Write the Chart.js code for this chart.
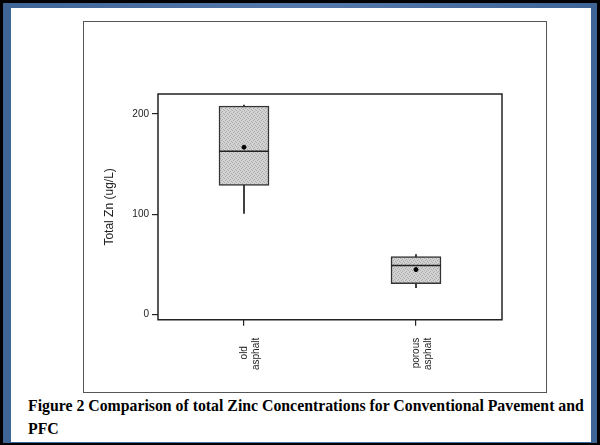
<!DOCTYPE html>
<html>
<head>
<meta charset="utf-8">
<script src="https://cdn.jsdelivr.net/npm/chart.js@4"></script>
<style>
    body { margin: 0; width: 600px; height: 445px; background: #000; position: relative; overflow: hidden; }
    #blue { position: absolute; left: 3px; top: 3px; width: 594px; height: 440px; background: linear-gradient(90deg, #3f6596, #5479aa 50%, #3f6596); }
    #page { position: absolute; left: 11px; top: 8px; width: 580px; height: 434px; background: #fff; }
    #figbox { position: absolute; left: 83px; top: 21px; width: 462px; height: 370px; border: 1.5px solid #555; background: #fff; }
    #figbox canvas { position: absolute; left: 0; top: 0; }
    #caption { position: absolute; left: 28px; top: 394px; width: 565px; font: bold 15.8px 'Liberation Serif', 'Times New Roman', serif; line-height: 23px; color: #000; }
</style>
</head>
<body>
<div id="blue"></div>
<div id="page"></div>
<div id="figbox"><canvas id="zincChart" width="462" height="370"></canvas></div>
<div id="caption">Figure 2 Comparison of total Zinc Concentrations for Conventional Pavement and<br>PFC</div>
<script>
// trailing spaces keep "old" centred on "asphalt" like the scan
const categories = [['old   ', 'asphalt'], ['porous', 'asphalt']];
const minValues = [101, 27];
const q1Values = [129, 31];
const medianValues = [163, 49];
const q3Values = [208, 58];
const maxValues = [209, 60];
const meanValues = [167, 45];
const yTicks = [0, 100, 200];

// stippled grey fill like the scanned box
function makePattern() {
    const c = document.createElement('canvas');
    c.width = 4;
    c.height = 4;
    const g = c.getContext('2d');
    g.fillStyle = '#d2d2d2';
    g.fillRect(0, 0, 4, 4);
    g.fillStyle = '#ababab';
    g.fillRect(0, 0, 1, 1);
    g.fillRect(2, 1, 1, 1);
    g.fillRect(1, 2, 1, 1);
    g.fillRect(3, 3, 1, 1);
    return g.createPattern(c, 'repeat');
}

const frame = {
    id: 'frame',
    beforeDatasetsDraw(chart) {
        const a = chart.chartArea;
        const ctx = chart.ctx;
        ctx.save();
        ctx.strokeStyle = '#222';
        ctx.lineWidth = 1.5;
        ctx.strokeRect(a.left, a.top, a.right - a.left, a.bottom - a.top);
        ctx.restore();
    }
};

const ctx = document.getElementById('zincChart').getContext('2d');
const zincChart = new Chart(ctx, {
    type: 'bar',
    data: {
        labels: categories,
        datasets: [
            {
                type: 'line',
                data: meanValues,
                showLine: false,
                pointStyle: 'circle',
                pointRadius: 2,
                pointBackgroundColor: '#000',
                pointBorderColor: '#000',
                order: 1
            },
            {
                type: 'line',
                data: medianValues,
                showLine: false,
                pointStyle: 'line',
                pointRadius: 25,
                pointBorderWidth: 1.5,
                pointBorderColor: '#222',
                order: 2
            },
            {
                data: q1Values.map((v, i) => [v, q3Values[i]]),
                backgroundColor: makePattern(),
                borderColor: '#333',
                borderWidth: 1.5,
                borderSkipped: false,
                barThickness: 50,
                grouped: false,
                order: 3
            },
            {
                data: minValues.map((v, i) => [v, maxValues[i]]),
                backgroundColor: '#333',
                barThickness: 1.2,
                grouped: false,
                order: 4
            }
        ]
    },
    options: {
        responsive: false,
        animation: false,
        events: [],
        layout: { padding: { left: 0, top: 72, right: 44, bottom: 10 } },
        plugins: { legend: { display: false }, tooltip: { enabled: false } },
        scales: {
            x: {
                offset: true,
                border: { display: false },
                grid: { offset: false, drawOnChartArea: false, drawTicks: true, tickLength: 6, color: '#222', lineWidth: 1.2 },
                ticks: {
                    minRotation: 90,
                    maxRotation: 90,
                    padding: 12,
                    color: '#222',
                    font: { family: 'Liberation Sans, Arial, sans-serif', size: 10 }
                }
            },
            y: {
                min: -5,
                max: 220,
                afterBuildTicks: s => { s.ticks = yTicks.map(v => ({ value: v })); },
                afterFit: s => { s.width = 74; },
                border: { display: false },
                grid: { drawOnChartArea: false, drawTicks: true, tickLength: 6, color: '#222', lineWidth: 1.2 },
                ticks: {
                    padding: 3,
                    color: '#222',
                    font: { family: 'Liberation Sans, Arial, sans-serif', size: 10 }
                },
                title: {
                    display: true,
                    text: 'Total Zn (ug/L)',
                    color: '#222',
                    padding: { top: 18, bottom: 0 },
                    font: { family: 'Liberation Sans, Arial, sans-serif', size: 12 }
                }
            }
        }
    },
    plugins: [frame]
});
</script>
</body>
</html>
